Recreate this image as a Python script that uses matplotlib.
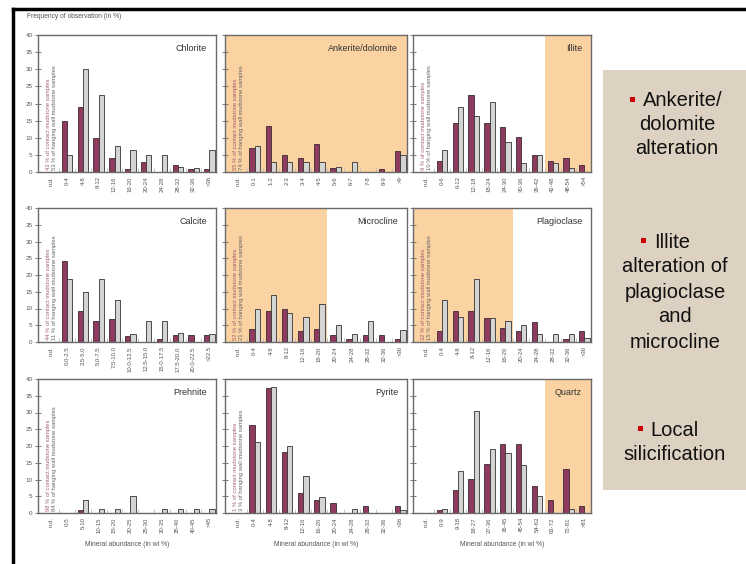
import matplotlib as mpl
mpl.use('Agg')
import matplotlib.pyplot as plt
from matplotlib.patches import Rectangle
from matplotlib.lines import Line2D

plt.rcParams['font.family'] = ['Liberation Sans', 'DejaVu Sans']

W, H = 746, 564

# category labels (first slot is "n.d.")
bins_4 = ['n.d.', '0-4', '4-8', '8-12', '12-16', '16-20', '20-24', '24-28', '28-32', '32-36', '>36']
bins_ank = ['n.d.', '0-1', '1-2', '2-3', '3-4', '4-5', '5-6', '6-7', '7-8', '8-9', '>9']
bins_ill = ['n.d.', '0-6', '6-12', '12-18', '18-24', '24-30', '30-36', '36-42', '42-48', '48-54', '>54']
bins_cal = ['n.d.', '0.0-2.5', '2.5-5.0', '5.0-7.5', '7.5-10.0', '10.0-12.5', '12.5-15.0',
            '15.0-17.5', '17.5-20.0', '20.0-22.5', '>22.5']
bins_pre = ['n.d.', '0-5', '5-10', '10-15', '15-20', '20-25', '25-30', '30-35', '35-40', '40-45', '>45']
bins_qtz = ['n.d.', '0-9', '9-18', '18-27', '27-36', '36-45', '45-54', '54-63', '63-72', '72-81', '>81']

# frequency (%) for contact mudstone / hanging wall mudstone, classes after n.d.
chlorite_contact = [15, 19, 10, 4, 1, 3, 0, 2, 1, 1]
chlorite_hanging = [5, 30, 22.5, 7.5, 6.5, 5, 5, 1.5, 1.3, 6.3]
ankerite_contact = [7.1, 13.4, 5.1, 4.2, 8.1, 1.2, 0, 0, 1, 6.1]
ankerite_hanging = [7.7, 2.8, 2.8, 2.8, 2.8, 1.5, 2.8, 0, 0, 5]
illite_contact = [3.2, 14.2, 22.4, 14.2, 13.2, 10.1, 5, 3.2, 4, 2]
illite_hanging = [6.4, 19, 16.3, 20.3, 8.9, 2.5, 5, 2.5, 1.2, 0]
calcite_contact = [24.3, 9.2, 6.2, 7, 1.9, 0, 1, 2, 2, 2]
calcite_hanging = [18.8, 15, 18.9, 12.4, 2.5, 6.4, 6.4, 2.7, 0, 2.5]
microcline_contact = [4, 9.2, 10, 3.2, 4, 2, 1, 2, 2, 1]
microcline_hanging = [10, 14, 8.7, 7.4, 11.3, 5, 2.4, 6.4, 0, 3.7]
plagioclase_contact = [3.2, 9.3, 9.3, 7.1, 4.2, 3.2, 5.9, 0, 1, 3.2]
plagioclase_hanging = [12.6, 7.4, 18.8, 7.3, 6.4, 5.1, 2.4, 2.4, 2.4, 1.2]
prehnite_contact = [0, 0.8, 0, 0, 0, 0, 0, 0, 0, 0]
prehnite_hanging = [0, 4, 1.3, 1.3, 5, 0, 1.3, 1.3, 1.3, 1.3]
pyrite_contact = [26.4, 37.3, 18.3, 6.1, 4, 3, 0, 2, 0, 2]
pyrite_hanging = [21.2, 37.5, 20, 11, 4.7, 0, 1.2, 0, 0, 1]
quartz_contact = [1, 7, 10.1, 14.6, 20.5, 20.5, 8.1, 4, 13.1, 2]
quartz_hanging = [1.3, 12.6, 30.3, 19.2, 17.9, 14.2, 5, 0, 1.3, 0]

# n.d. percentages (contact, hanging wall)
nd_chlorite = (43, 53)
nd_ankerite = (55, 74)
nd_illite = (9, 10)
nd_calcite = (44, 11)
nd_microcline = (52, 21)
nd_plagioclase = (32, 15)
nd_prehnite = (98, 84)
nd_pyrite = (1, 3)

PURPLE = '#8e3b5f'
GREY = '#d4d4d4'
ORANGE = '#fbd3a2'
TXT = '#555555'

panels = [
    ('Chlorite', bins_4, chlorite_contact, chlorite_hanging, nd_chlorite, None),
    ('Ankerite/dolomite', bins_ank, ankerite_contact, ankerite_hanging, nd_ankerite, (-1, 11)),
    ('Illite', bins_ill, illite_contact, illite_hanging, nd_illite, (7.5, 11)),
    ('Calcite', bins_cal, calcite_contact, calcite_hanging, nd_calcite, None),
    ('Microcline', bins_4, microcline_contact, microcline_hanging, nd_microcline, (-1, 5.5)),
    ('Plagioclase', bins_4, plagioclase_contact, plagioclase_hanging, nd_plagioclase, (-1, 5.5)),
    ('Prehnite', bins_pre, prehnite_contact, prehnite_hanging, nd_prehnite, None),
    ('Pyrite', bins_4, pyrite_contact, pyrite_hanging, nd_pyrite, None),
    ('Quartz', bins_qtz, quartz_contact, quartz_hanging, None, (7.5, 11)),
]

col_left = [38, 225, 413]
col_w = [178, 182, 178]
row_top = [35, 208, 379]
row_h = [137, 134, 134]

fig = plt.figure(figsize=(W / 100, H / 100), dpi=100)
fig.patch.set_facecolor('white')


def px(x, y):
    return x / W, 1 - y / H


for k, (name, labels, contact, hanging, nd, shade) in enumerate(panels):
    r, c = divmod(k, 3)
    l, b = px(col_left[c], row_top[r] + row_h[r])
    ax = fig.add_axes([l, b, col_w[c] / W, row_h[r] / H])
    ax.set_xlim(-0.84, 10.42)
    ax.set_ylim(0, 40)
    if shade:
        ax.axvspan(shade[0], shade[1], color=ORANGE, lw=0, zorder=0)
    xs = list(range(1, len(labels)))
    ax.bar([x - 0.165 for x in xs], contact, width=0.33, color=PURPLE,
           edgecolor='#3a2a30', linewidth=0.6, zorder=2)
    ax.bar([x + 0.165 for x in xs], hanging, width=0.33, color=GREY,
           edgecolor='#333333', linewidth=0.6, zorder=2)
    ax.set_xticks(range(len(labels)))
    ax.set_xticklabels(labels, rotation=90, fontsize=4.3, color=TXT)
    ax.set_xticks([i + 0.5 for i in range(len(labels) - 1)], minor=True)
    ax.tick_params(axis='x', which='major', length=0, pad=3)
    ax.tick_params(axis='x', which='minor', direction='in', length=3, color='#bbbbbb')
    ax.set_yticks(range(0, 41, 5))
    ax.tick_params(axis='y', direction='inout', length=4, width=0.6, color='#666666',
                   labelsize=4.5, labelcolor=TXT, pad=2)
    if c != 0:
        ax.set_yticklabels([])
    for s in ax.spines.values():
        s.set_color('#6a6a6a')
        s.set_linewidth(1.0)
    ax.text(0.95, 0.9, name, transform=ax.transAxes, ha='right', va='center',
            fontsize=6.5, color='#333333')
    if nd:
        ax.text(-0.2, 0.6, '%d %% of contact mudstone samples' % nd[0], rotation=90,
                ha='center', va='bottom', fontsize=4.2, color=PURPLE, alpha=0.8)
        ax.text(0.2, 0.6, '%d %% of hanging wall mudstone samples' % nd[1], rotation=90,
                ha='center', va='bottom', fontsize=4.2, color='#666666')
    if r == 2:
        ax.set_xlabel('Mineral abundance (in wt %)', fontsize=4.8, color=TXT, labelpad=6)

x0, y0 = px(27, 17)
fig.text(x0, y0, 'Frequency of observation (in %)', fontsize=4.8, color=TXT,
         ha='left', va='center')

# outer black frame (top and left edges)
fig.add_artist(Line2D([13 / W, 1.0], [1 - 9 / H, 1 - 9 / H], transform=fig.transFigure,
                      color='black', lw=2.5))
fig.add_artist(Line2D([13 / W, 13 / W], [1 - 9 / H, 0], transform=fig.transFigure,
                      color='black', lw=2.5))

# side box
bl, bb = px(603, 490)
fig.add_artist(Rectangle((bl, bb), 1 - bl, (490 - 70) / H, transform=fig.transFigure,
                         facecolor='#ddd1c1', edgecolor='none'))

side_lines = [
    ('Ankerite/', 683, 100), ('dolomite', 677, 125), ('alteration', 677, 149),
    ('Illite', 672, 242), ('alteration of', 675, 267), ('plagioclase', 675, 292),
    ('and', 675, 317), ('microcline', 675, 342),
    ('Local', 675, 430), ('silicification', 675, 454),
]
for t, x, y in side_lines:
    fx, fy = px(x, y)
    fig.text(fx, fy, t, fontsize=14.5, ha='center', va='center', color='#111111')

for x, y in [(632, 99), (643, 240), (640, 428)]:
    fx, fy = px(x - 2.5, y + 2.5)
    fig.add_artist(Rectangle((fx, fy), 5 / W, 5 / H, transform=fig.transFigure,
                             facecolor='#cc0000', edgecolor='none'))

fig.savefig('out.png', dpi=100)
